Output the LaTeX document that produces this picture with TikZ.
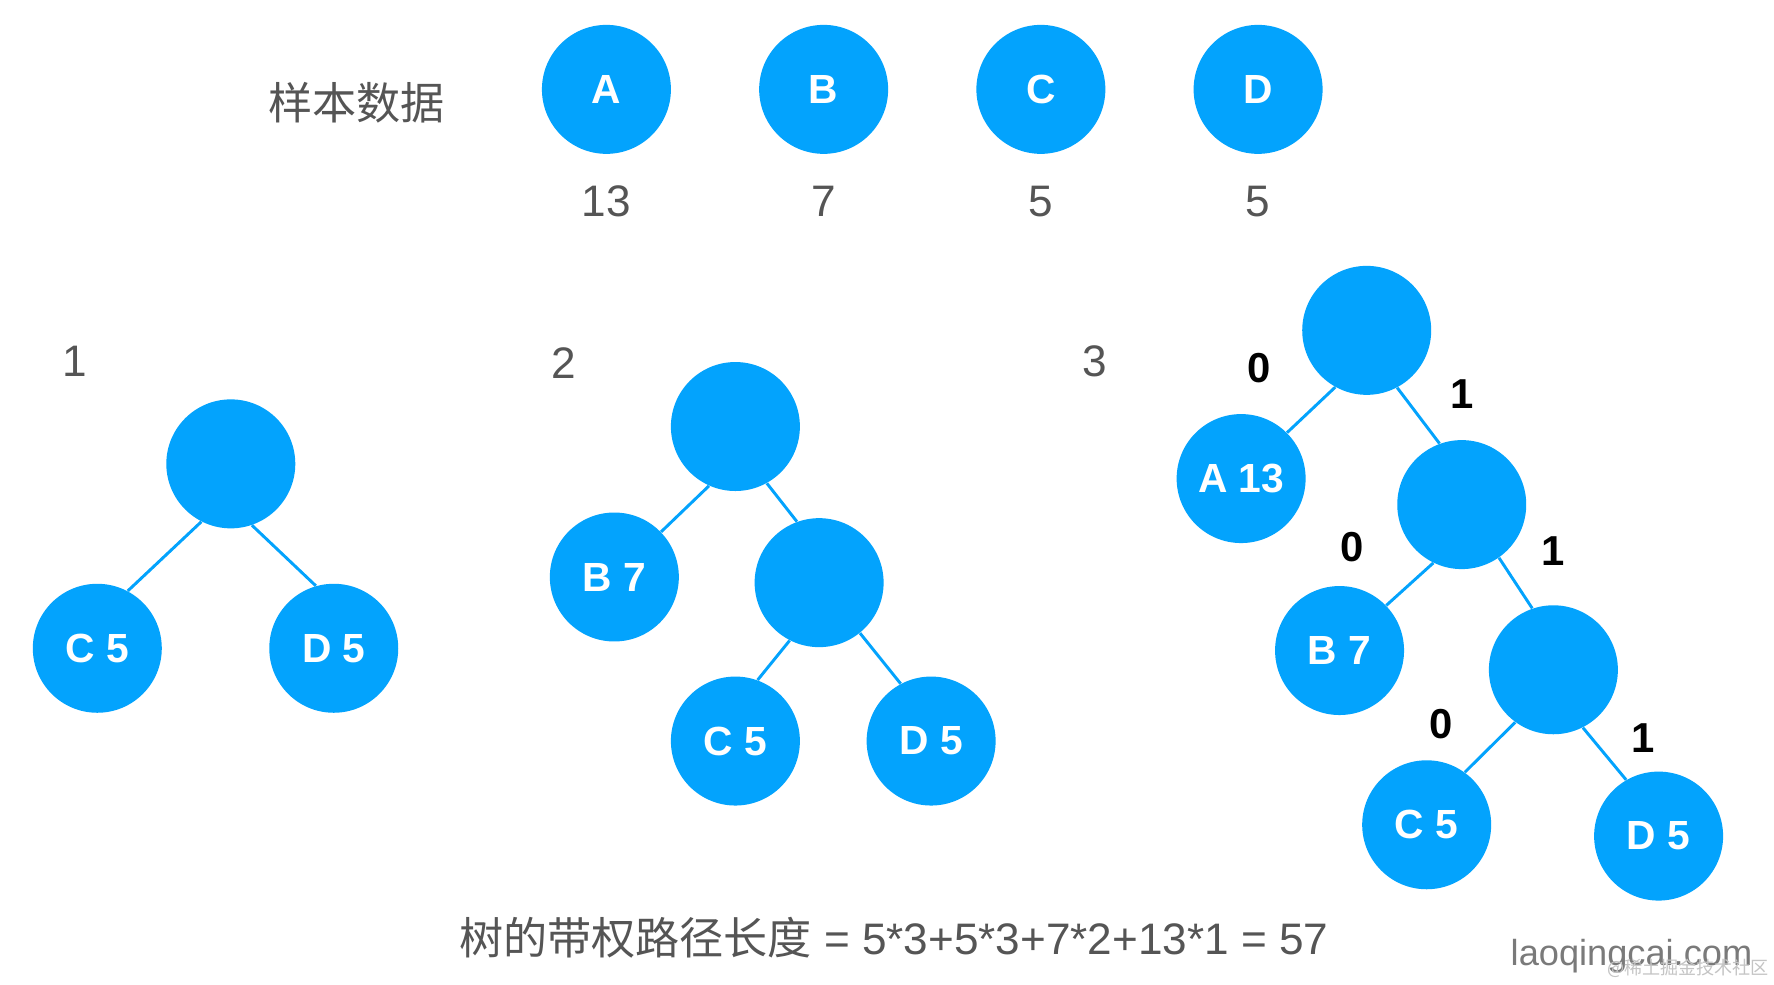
\documentclass[tikz,border=0pt]{standalone}
\usepackage{fontspec}
\setmainfont{Liberation Sans}
\newfontfamily\cjk{Noto Sans CJK SC}
\definecolor{nodeblue}{HTML}{03A3FD}
\definecolor{txtgray}{HTML}{555555}
\definecolor{wmgray}{HTML}{7A7A7A}
\definecolor{wmlight}{HTML}{C4C4C4}
\begin{document}
\begin{tikzpicture}[x=0.5pt,y=-0.5pt,
  vnode/.style={circle,fill=nodeblue,draw=none,minimum size=57pt,inner sep=0pt,text=white,font=\fontsize{18}{18}\selectfont\bfseries},
  edge/.style={draw=nodeblue,line width=1.3pt},
  gtext/.style={text=txtgray,font=\fontsize{19.5}{20}\selectfont,inner sep=0pt},
  bit/.style={text=black,font=\fontsize{18.5}{19}\selectfont\bfseries,inner sep=0pt}]
\fill[white] (0,0) rectangle (1568,870);
\useasboundingbox (0,0) rectangle (1568,870);

% sample data
\node[gtext,font=\cjk\fontsize{19.5}{20}\selectfont] (title) at (315,91) {样本数据};
\node[vnode] (sa) at (536,79) {A};
\node[vnode] (sb) at (728,79) {B};
\node[vnode] (sc) at (920,79) {C};
\node[vnode] (sd) at (1112,79) {D};
\node[gtext] (wa) at (536,178) {13};
\node[gtext] (wb) at (728,178) {7};
\node[gtext] (wc) at (920,178) {5};
\node[gtext] (wd) at (1112,178) {5};

% tree 1
\node[gtext] (l1) at (66,319) {1};
\node[vnode] (t1r) at (204,410) {};
\node[vnode] (t1c) at (86,573) {C 5};
\node[vnode] (t1d) at (295,573) {D 5};
\draw[edge] (t1r.243) -- (t1c.62);
\draw[edge] (t1r.289) -- (t1d.106);

% tree 2
\node[gtext] (l2) at (498,321) {2};
\node[vnode] (t2r) at (650,377) {};
\node[vnode] (t2b) at (543,510) {B 7};
\node[vnode] (t2i) at (724,515) {};
\node[vnode] (t2c) at (650,655) {C 5};
\node[vnode] (t2d) at (823,655) {D 5};
\draw[edge] (t2r.246) -- (t2b.44);
\draw[edge] (t2r.299) -- (t2i.110);
\draw[edge] (t2i.243) -- (t2c.70);
\draw[edge] (t2i.309) -- (t2d.118);

% tree 3
\node[gtext] (l3) at (968,319) {3};
\node[vnode] (t3r) at (1208,292) {};
\node[vnode] (t3a) at (1097,423) {A 13};
\node[vnode] (t3i) at (1292,446) {};
\node[vnode] (t3b) at (1184,575) {B 7};
\node[vnode] (t3j) at (1373,592) {};
\node[vnode] (t3c) at (1261,729) {C 5};
\node[vnode] (t3d) at (1466,739) {D 5};
\draw[edge] (t3r.241) -- (t3a.45);
\draw[edge] (t3r.298) -- (t3i.110);
\draw[edge] (t3i.244) -- (t3b.44);
\draw[edge] (t3i.305) -- (t3j.109);
\draw[edge] (t3j.234) -- (t3c.54);
\draw[edge] (t3j.297) -- (t3d.120);
\node[bit] (e1) at (1113,325) {0};
\node[bit] (e2) at (1292,348) {1};
\node[bit] (e3) at (1195,484) {0};
\node[bit] (e4) at (1373,487) {1};
\node[bit] (e5) at (1274,640) {0};
\node[bit] (e6) at (1452,652) {1};

% formula
\node[gtext,anchor=center] (formula) at (790,829) {{\cjk 树的带权路径长度} = 5*3+5*3+7*2+13*1 = 57};

% watermark
\node[text=wmgray,font=\fontsize{16}{16}\selectfont,inner sep=0pt] (wm) at (1442,845) {laoqingcai.com};
\node[text=wmlight,font=\cjk\fontsize{8}{8}\selectfont,inner sep=0pt] (wm2) at (1492,856) {@稀土掘金技术社区};
\end{tikzpicture}
\end{document}
